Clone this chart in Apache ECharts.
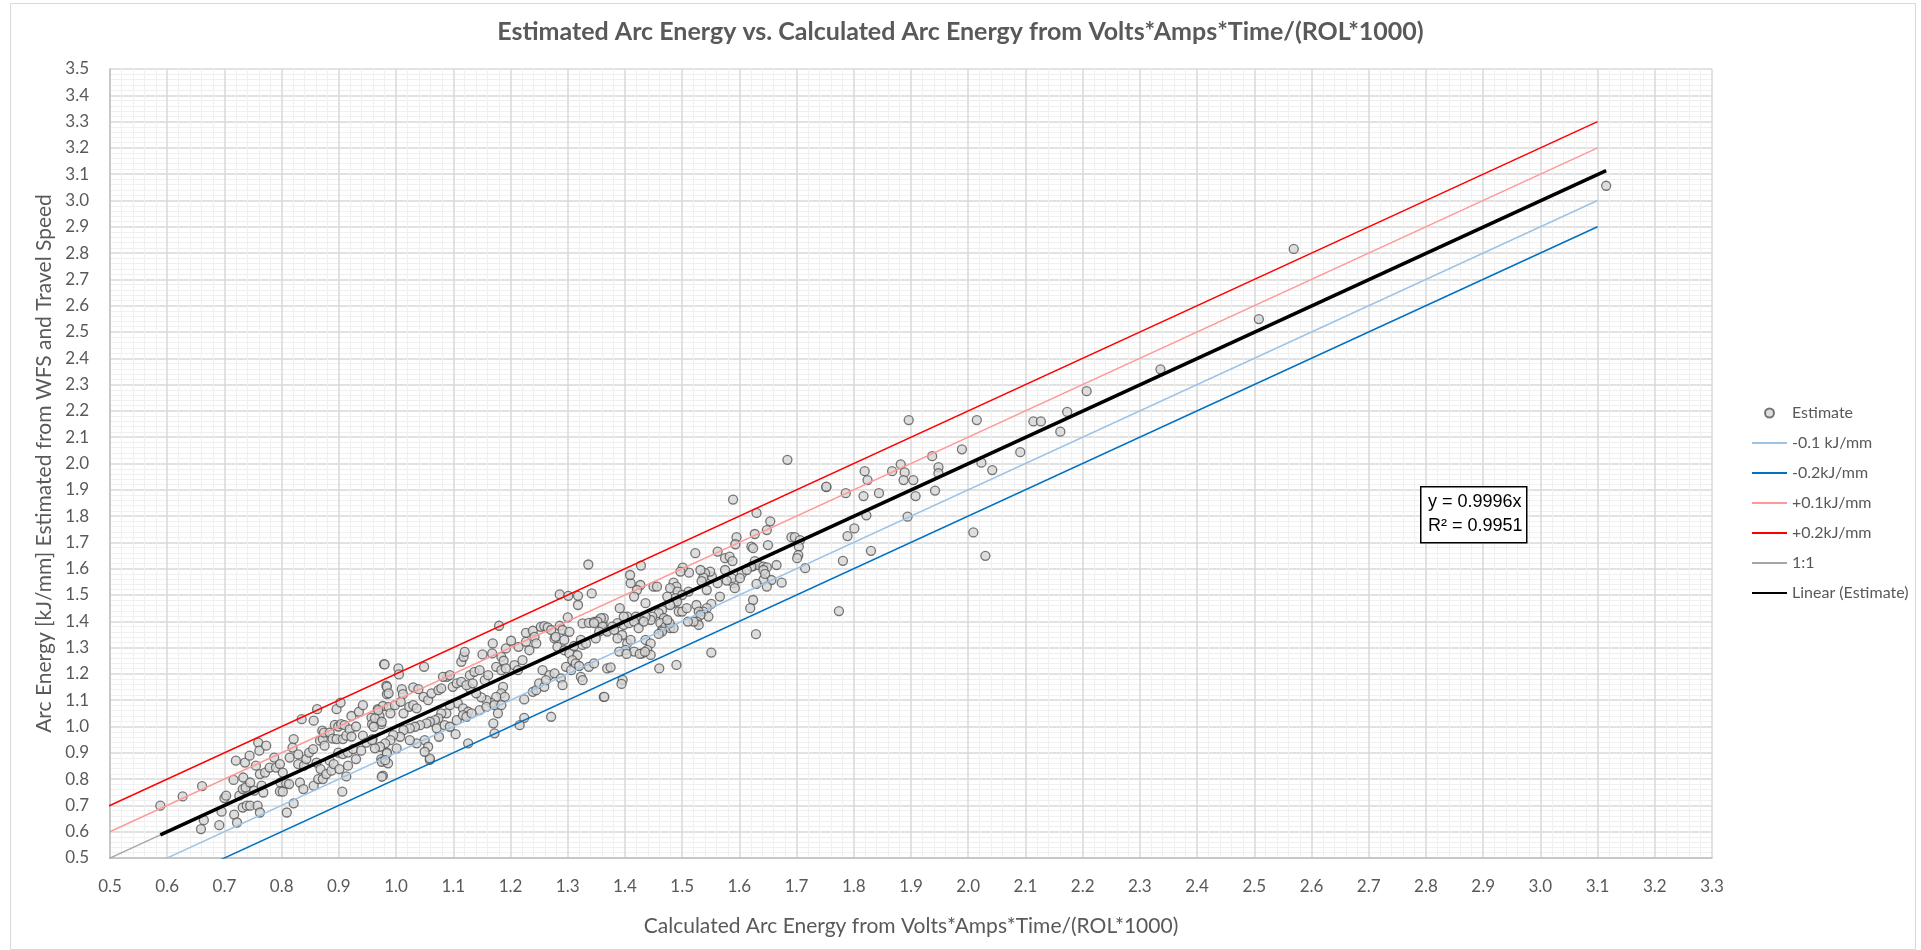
<!DOCTYPE html>
<html>
<head>
<meta charset="utf-8">
<script src="https://cdn.jsdelivr.net/npm/echarts@6/dist/echarts.min.js"></script>
<style>
  html, body { margin: 0; padding: 0; background: #fff; }
  #chart { width: 1921px; height: 950px; }
</style>
</head>
<body>
<div id="chart"></div>
<script>
// [calculated arc energy, estimated arc energy] in kJ/mm
var estimatePoints = [
  [0.588,0.699],[0.627,0.734],[0.661,0.773],[0.659,0.610],[0.664,0.644],[0.691,0.625],[0.695,0.676],[0.700,0.728],[0.703,0.737],[0.716,0.797],
  [0.720,0.870],[0.717,0.665],[0.722,0.635],[0.726,0.737],[0.732,0.762],[0.733,0.806],[0.736,0.863],[0.744,0.889],[0.732,0.692],[0.739,0.699],
  [0.745,0.699],[0.758,0.699],[0.762,0.673],[0.737,0.768],[0.745,0.787],[0.752,0.756],[0.755,0.851],[0.759,0.939],[0.761,0.908],[0.773,0.927],
  [0.762,0.819],[0.771,0.825],[0.765,0.775],[0.768,0.749],[0.779,0.844],[0.787,0.882],[0.790,0.844],[0.797,0.857],[0.802,0.825],[0.798,0.787],
  [0.797,0.753],[0.802,0.752],[0.809,0.673],[0.821,0.952],[0.819,0.920],[0.814,0.882],[0.821,0.708],[0.808,0.784],[0.813,0.781],[0.829,0.894],
  [0.829,0.857],[0.832,0.787],[0.838,0.762],[0.835,1.028],[0.862,1.066],[0.856,1.022],[0.839,0.851],[0.843,0.876],[0.848,0.901],[0.855,0.914],
  [0.856,0.775],[0.861,0.863],[0.868,0.838],[0.864,0.800],[0.872,0.800],[0.867,0.946],[0.872,0.952],[0.875,0.927],[0.871,0.984],[0.874,0.977],
  [0.884,0.977],[0.889,0.954],[0.893,1.006],[0.878,0.819],[0.887,0.832],[0.884,0.870],[0.891,0.857],[0.896,1.066],[0.903,1.091],[0.906,0.752],
  [0.899,1.000],[0.904,1.009],[0.910,1.005],[0.896,0.952],[0.907,0.952],[0.913,0.965],[0.899,0.901],[0.907,0.895],[0.916,0.901],[0.901,0.838],
  [0.916,0.851],[0.913,0.810],[0.919,0.989],[0.922,0.962],[0.922,1.040],[0.930,1.000],[0.935,1.056],[0.942,1.081],[0.925,0.914],[0.930,0.876],
  [0.939,0.908],[0.942,0.965],[0.948,0.939],[0.957,1.034],[0.968,1.066],[0.958,1.009],[0.959,0.952],[0.971,1.040],[0.974,1.009],[0.977,1.078],
  [0.979,1.237],[0.977,0.813],[0.974,0.876],[0.983,1.155],[0.984,1.123],[0.984,0.901],[0.975,0.866],[0.986,0.860],[1.059,0.873],
  [1.336,1.616],[1.286,1.502],[1.301,1.497],[1.318,1.497],[1.318,1.462],[1.342,1.506],[1.180,1.383],[0.980,1.236],[1.004,1.221],[1.005,1.198],
  [1.049,1.227],[0.984,1.151],[0.987,1.126],[1.010,1.142],[1.012,1.123],[1.030,1.149],[1.039,1.142],[0.963,1.031],[0.975,1.018],[0.969,1.062],
  [0.987,1.075],[0.990,1.050],[0.998,1.081],[1.008,1.094],[1.013,1.050],[1.023,1.075],[1.030,1.081],[1.036,1.069],[1.048,1.113],[1.056,1.100],
  [1.062,1.126],[1.074,1.138],[1.079,1.145],[1.089,1.189],[1.082,1.189],[1.094,1.195],[1.099,1.151],[1.106,1.164],[1.114,1.170],[1.114,1.246],
  [1.118,1.265],[1.120,1.284],[1.129,1.195],[1.137,1.208],[1.146,1.214],[1.155,1.176],[1.161,1.195],[1.151,1.274],[1.168,1.278],[1.169,1.316],
  [1.184,1.265],[1.188,1.250],[1.192,1.297],[1.201,1.326],[1.175,1.227],[1.184,1.214],[1.192,1.221],[1.207,1.233],[1.213,1.214],[1.221,1.252],
  [1.214,1.303],[1.227,1.322],[1.227,1.356],[1.239,1.364],[1.242,1.341],[1.245,1.316],[1.233,1.290],[1.253,1.379],[1.259,1.382],[1.265,1.377],
  [1.271,1.367],[1.277,1.335],[1.279,1.341],[1.286,1.383],[1.291,1.367],[1.300,1.415],[1.303,1.360],[1.294,1.329],[1.282,1.303],[1.294,1.290],
  [1.303,1.278],[1.311,1.306],[1.317,1.271],[1.323,1.329],[1.326,1.310],[1.332,1.316],[1.326,1.392],[1.337,1.394],[1.346,1.398],[1.355,1.405],
  [1.361,1.392],[1.366,1.367],[1.256,1.214],[1.268,1.195],[1.277,1.202],[1.288,1.183],[1.297,1.227],[1.306,1.214],[1.308,1.252],[1.314,1.240],
  [1.320,1.230],[1.337,1.227],[1.291,1.157],[1.323,1.189],[1.326,1.176],[1.271,1.037],[1.224,1.033],[1.216,1.005],[1.170,1.012],[1.172,0.974],
  [1.126,0.936],[1.104,0.971],[1.075,0.961],[1.224,1.103],[1.239,1.132],[1.245,1.138],[1.250,1.164],[1.259,1.151],[1.262,1.176],[1.187,1.151],
  [1.184,1.126],[1.190,1.113],[1.175,1.113],[1.166,1.090],[1.158,1.100],[1.149,1.111],[1.140,1.126],[1.129,1.145],[1.123,1.157],[1.134,1.164],
  [1.146,1.062],[1.158,1.075],[1.172,1.081],[1.184,1.081],[1.178,1.050],[1.108,1.088],[1.117,1.069],[1.126,1.056],[1.094,1.081],[1.088,1.050],
  [1.079,1.050],[1.074,1.031],[1.068,1.024],[1.059,1.018],[1.053,1.012],[1.042,1.005],[1.033,0.999],[1.024,0.993],[1.013,0.986],[1.007,0.961],
  [0.995,0.967],[0.990,0.948],[0.981,0.936],[0.972,0.923],[0.963,0.917],[0.958,0.948],[0.961,0.999],[1.050,0.948],[1.056,0.923],[1.036,0.936],
  [1.024,0.948],[1.001,0.917],[0.984,0.898],[0.981,0.872],[0.975,0.809],[1.059,0.879],[1.050,0.904],[1.071,0.993],[1.085,1.005],[1.094,0.999],
  [1.106,1.024],[1.117,1.043],[1.123,1.037],[1.132,1.050],[1.369,1.221],[1.363,1.113],
  [1.684,2.014],[1.589,1.863],[1.752,1.910],[1.630,1.812],[1.654,1.780],[1.648,1.747],[1.627,1.732],[1.595,1.720],[1.593,1.693],[1.621,1.684],
  [1.624,1.678],[1.650,1.690],[1.691,1.720],[1.697,1.720],[1.706,1.709],[1.704,1.684],[1.703,1.652],[1.701,1.640],[1.715,1.602],[1.523,1.659],
  [1.562,1.665],[1.428,1.612],[1.575,1.640],[1.583,1.646],[1.588,1.629],[1.627,1.629],[1.624,1.610],[1.633,1.614],[1.642,1.608],[1.648,1.605],
  [1.665,1.614],[1.656,1.557],[1.674,1.547],[1.642,1.557],[1.648,1.532],[1.630,1.542],[1.624,1.481],[1.619,1.450],[1.629,1.351],[1.621,1.608],
  [1.642,1.595],[1.645,1.580],[1.590,1.545],[1.592,1.526],[1.587,1.564],[1.604,1.580],[1.601,1.564],[1.613,1.595],[1.575,1.595],[1.578,1.555],
  [1.566,1.494],[1.562,1.545],[1.552,1.570],[1.549,1.589],[1.540,1.583],[1.537,1.566],[1.532,1.595],[1.534,1.553],[1.512,1.585],[1.501,1.604],
  [1.497,1.589],[1.485,1.547],[1.490,1.532],[1.479,1.526],[1.492,1.513],[1.543,1.519],[1.551,1.466],[1.543,1.450],[1.537,1.437],[1.546,1.418],
  [1.525,1.462],[1.529,1.437],[1.532,1.424],[1.511,1.513],[1.500,1.500],[1.488,1.488],[1.485,1.469],[1.491,1.475],[1.479,1.462],[1.494,1.437],
  [1.500,1.437],[1.508,1.450],[1.526,1.399],[1.529,1.386],[1.520,1.399],[1.510,1.399],[1.474,1.494],[1.465,1.443],[1.459,1.431],[1.450,1.532],
  [1.456,1.532],[1.436,1.469],[1.427,1.538],[1.421,1.519],[1.416,1.494],[1.410,1.545],[1.409,1.576],[1.448,1.418],[1.445,1.405],[1.436,1.418],
  [1.427,1.405],[1.419,1.418],[1.404,1.418],[1.398,1.418],[1.391,1.450],[1.387,1.393],[1.378,1.380],[1.363,1.412],[1.358,1.412],[1.352,1.399],
  [1.346,1.393],[1.361,1.380],[1.355,1.361],[1.349,1.335],[1.369,1.361],[1.381,1.367],[1.398,1.386],[1.407,1.393],[1.416,1.399],[1.424,1.374],
  [1.433,1.399],[1.468,1.412],[1.462,1.393],[1.465,1.367],[1.471,1.380],[1.479,1.374],[1.485,1.374],[1.478,1.393],[1.474,1.405],[1.404,1.316],
  [1.395,1.348],[1.387,1.335],[1.401,1.291],[1.390,1.285],[1.410,1.329],[1.436,1.329],[1.445,1.316],[1.439,1.291],[1.430,1.278],[1.416,1.285],
  [1.445,1.272],[1.465,1.361],[1.459,1.352],[1.490,1.234],[1.460,1.221],[1.375,1.225],[1.346,1.240],[1.551,1.281],[1.396,1.177],[1.394,1.162],
  [1.364,1.113],[1.403,1.276],[1.426,1.276],[1.435,1.284],
  [3.115,3.056],[2.569,2.816],[2.508,2.549],[2.336,2.358],[2.207,2.275],[2.173,2.196],[2.114,2.160],[2.127,2.160],[2.161,2.121],[2.091,2.043],
  [2.015,2.165],[1.896,2.165],[1.989,2.054],[2.023,2.003],[2.042,1.975],[1.937,2.028],[1.948,1.986],[1.948,1.963],[1.942,1.897],[1.882,1.997],
  [1.889,1.966],[1.887,1.937],[1.904,1.937],[1.908,1.876],[1.894,1.798],[1.867,1.971],[1.819,1.971],[1.824,1.937],[1.844,1.887],[1.817,1.876],
  [1.786,1.887],[1.752,1.912],[1.822,1.803],[1.801,1.753],[1.789,1.724],[1.830,1.668],[1.781,1.630],[2.009,1.738],[2.030,1.649],[1.774,1.439]
];

var refLineX = [0.3, 3.1];
var refLineNames = ['-0.1 kJ/mm', '-0.2kJ/mm', '+0.1kJ/mm', '+0.2kJ/mm', '1:1'];
var refLineOffsets = [-0.1, -0.2, 0.1, 0.2, 0];
var refLineColors = ['#9DC3E6', '#0070C0', '#FF9999', '#FF0000', '#A6A6A6'];
var trendSlope = 0.9996;
var trendLabel = ['y = 0.9996x', 'R\u00B2 = 0.9951'];
var legendNames = ['Estimate'].concat(refLineNames, ['Linear (Estimate)']);

var FONT = 'Lato, "Open Sans", sans-serif';
var chart = echarts.init(document.getElementById('chart'));

var xs = estimatePoints.map(function (p) { return p[0]; });
var trendX = [Math.min.apply(null, xs), Math.max.apply(null, xs)];

var series = [{
  name: 'Estimate',
  type: 'scatter',
  data: estimatePoints,
  symbol: 'circle',
  symbolSize: 9,
  itemStyle: { color: '#D6D6D6', borderColor: '#555555', borderWidth: 1.3 },
  z: 2
}];
refLineNames.forEach(function (name, i) {
  series.push({
    name: name,
    type: 'line',
    data: refLineX.map(function (x) { return [x, x + refLineOffsets[i]]; }),
    symbol: 'none',
    silent: true,
    lineStyle: { color: refLineColors[i], width: 1.5 },
    itemStyle: { color: refLineColors[i] },
    z: 3
  });
});
series.push({
  name: 'Linear (Estimate)',
  type: 'line',
  data: trendX.map(function (x) { return [x, x * trendSlope]; }),
  symbol: 'none',
  silent: true,
  lineStyle: { color: '#000000', width: 3.5 },
  itemStyle: { color: '#000000' },
  z: 4
});

function axisBase(min, max, name) {
  return {
    type: 'value',
    min: min,
    max: max,
    interval: 0.1,
    name: name,
    nameLocation: 'middle',
    nameTextStyle: { fontFamily: FONT, fontSize: 21, color: '#595959' },
    axisLine: { show: true, lineStyle: { color: '#BFBFBF', width: 1.5 } },
    axisTick: { show: false },
    axisLabel: {
      fontFamily: FONT, fontSize: 17, color: '#595959',
      formatter: function (v) { return v.toFixed(1); }
    },
    splitLine: { show: true, lineStyle: { color: '#D9D9D9', width: 1.5 } },
    minorTick: { show: false, splitNumber: 5 },
    minorSplitLine: { show: true, lineStyle: { color: '#F0F0F0', width: 1 } }
  };
}

var xAxis = axisBase(0.5, 3.3, 'Calculated Arc Energy from Volts*Amps*Time/(ROL*1000)');
xAxis.nameGap = 58;
xAxis.axisLabel.margin = 20;
var yAxis = axisBase(0.5, 3.5, 'Arc Energy [kJ/mm] Estimated from WFS and Travel Speed');
yAxis.nameGap = 50;
yAxis.axisLabel.margin = 21;

var option = {
  backgroundColor: '#FFFFFF',
  animation: false,
  title: {
    text: 'Estimated Arc Energy vs. Calculated Arc Energy from Volts*Amps*Time/(ROL*1000)',
    left: 'center',
    top: 14,
    textStyle: { fontFamily: FONT, fontSize: 25, fontWeight: 'bold', color: '#595959' }
  },
  grid: { left: 110, right: 209, top: 69, bottom: 92, outerBoundsMode: 'none' },
  legend: {
    orient: 'vertical',
    left: 1751,
    top: 405,
    padding: 0,
    itemWidth: 35,
    itemHeight: 9,
    itemGap: 14,
    textStyle: { fontFamily: FONT, fontSize: 16, color: '#595959' },
    data: legendNames.map(function (name, i) {
      return i === 0 ? { name: name } : { name: name, itemStyle: { opacity: 0 } };
    })
  },
  xAxis: xAxis,
  yAxis: yAxis,
  series: series,
  graphic: [
    {
      type: 'rect',
      left: 8, top: 1,
      shape: { width: 1905, height: 946 },
      style: { fill: 'none', stroke: '#D9D9D9', lineWidth: 1 },
      silent: true, z: 0
    },
    {
      type: 'rect',
      left: 1420, top: 486,
      shape: { width: 106, height: 56 },
      style: { fill: '#FFFFFF', stroke: '#000000', lineWidth: 1.5 },
      z: 100
    },
    {
      type: 'text',
      left: 1428, top: 490,
      style: { text: trendLabel.join('\n'), fontFamily: '"Liberation Sans", Arial, sans-serif', fontSize: 18, lineHeight: 24, fill: '#000000' },
      z: 101
    }
  ]
};

chart.setOption(option);
</script>
</body>
</html>
